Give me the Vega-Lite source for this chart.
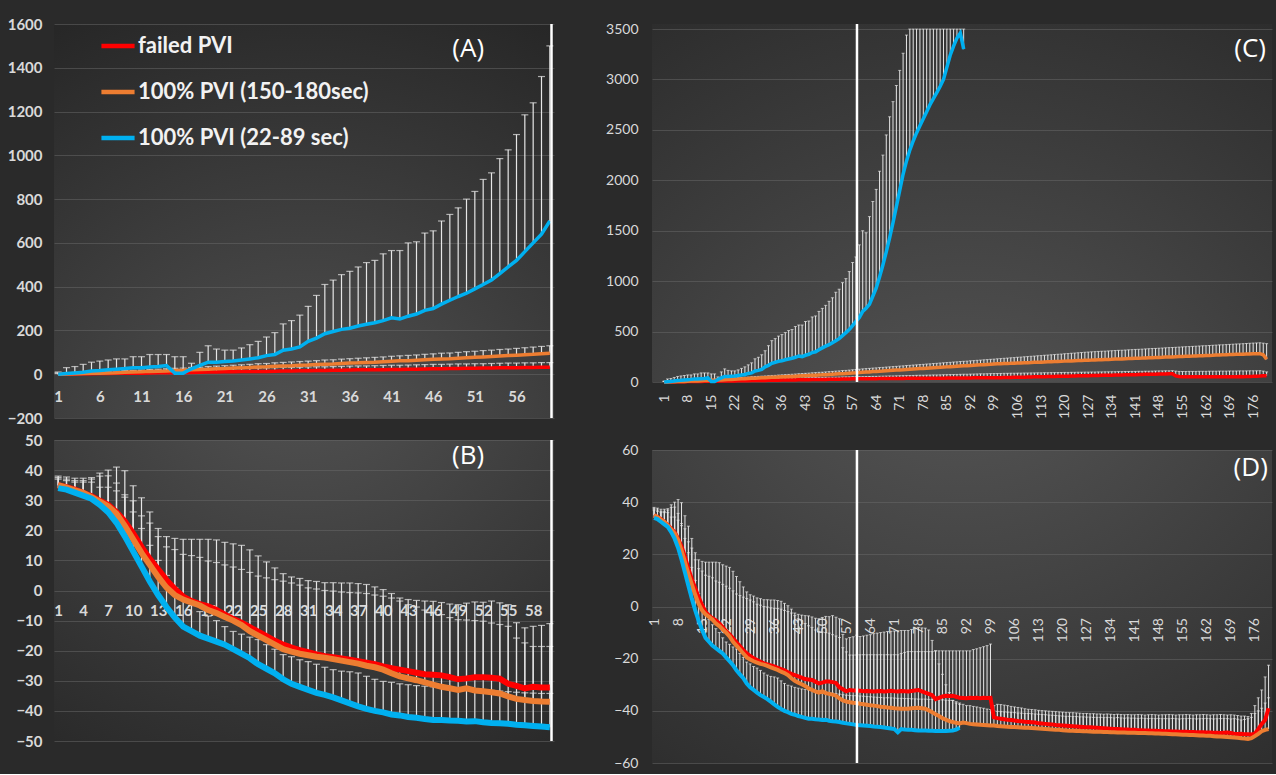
{
"$schema":"https://vega.github.io/schema/vega-lite/v6.json",
"background":"#2a2a2a",
"padding":{"left":6,"top":17,"right":4,"bottom":4},
"config":{"view":{"stroke":null},"axis":{"domain":false,"ticks":false,"labelColor":"#d9d9d9","labelFont":"Lato","gridColor":"#6a6a6a","gridOpacity":0.5,"gridWidth":1,"labelFlush":false,"labelOverlap":false,"tickCount":200,"format":"d"},"axisX":{"grid":false},"axisY":{"grid":true}},
"datasets":{"main":[
{"x":1,"s":"r","c":0,"cu":5,"d":35,"du":37.5},{"x":2,"s":"r","c":1,"cu":7,"d":34.3,"du":37},{"x":3,"s":"r","c":1,"cu":8,"d":33.5,"du":36.5},{"x":4,"s":"r","c":2,"cu":9,"d":32.5,"du":36.5},{"x":5,"s":"r","c":2,"cu":10,"d":31.3,"du":37},{"x":6,"s":"r","c":3,"cu":11,"d":29.8,"du":38},{"x":7,"s":"r","c":3,"cu":12,"d":28.5,"du":38.1},{"x":8,"s":"r","c":4,"cu":13,"d":26,"du":35.7},{"x":9,"s":"r","c":4,"cu":14,"d":23,"du":31.8},{"x":10,"s":"r","c":5,"cu":15,"d":19,"du":29.8},
{"x":11,"s":"r","c":5,"cu":16,"d":14.5,"du":24.8},{"x":12,"s":"r","c":6,"cu":17,"d":10.5,"du":22.4},{"x":13,"s":"r","c":7,"cu":18,"d":7,"du":17.9},{"x":14,"s":"r","c":7,"cu":19,"d":3.5,"du":14.5},{"x":15,"s":"r","c":7,"cu":19,"d":0.5,"du":13.6},{"x":16,"s":"r","c":8,"cu":20,"d":-2,"du":12},{"x":17,"s":"r","c":8,"cu":21,"d":-3.5,"du":11.6},{"x":18,"s":"r","c":9,"cu":22,"d":-4.5,"du":11},{"x":19,"s":"r","c":10,"cu":23,"d":-5.3,"du":9.8},{"x":20,"s":"r","c":10,"cu":24,"d":-6.5,"du":9.3},
{"x":21,"s":"r","c":11,"cu":25,"d":-8,"du":8.5},{"x":22,"s":"r","c":11,"cu":25,"d":-9.5,"du":7.8},{"x":23,"s":"r","c":12,"cu":26,"d":-10.7,"du":7},{"x":24,"s":"r","c":12,"cu":27,"d":-12.2,"du":6},{"x":25,"s":"r","c":13,"cu":28,"d":-13.7,"du":4.8},{"x":26,"s":"r","c":13,"cu":29,"d":-15.2,"du":4.2},{"x":27,"s":"r","c":14,"cu":30,"d":-16.7,"du":3.6},{"x":28,"s":"r","c":15,"cu":31,"d":-18,"du":3.1},{"x":29,"s":"r","c":15,"cu":31,"d":-19,"du":2.5},{"x":30,"s":"r","c":16,"cu":32,"d":-19.8,"du":1.8},
{"x":31,"s":"r","c":16,"cu":33,"d":-20.5,"du":0.9},{"x":32,"s":"r","c":17,"cu":34,"d":-21.2,"du":0.5},{"x":33,"s":"r","c":17,"cu":34,"d":-21.8,"du":0},{"x":34,"s":"r","c":18,"cu":35,"d":-22.2,"du":-0.2},{"x":35,"s":"r","c":18,"cu":36,"d":-22.6,"du":-0.5},{"x":36,"s":"r","c":19,"cu":37,"d":-23,"du":-0.7},{"x":37,"s":"r","c":20,"cu":38,"d":-23.5,"du":-0.8},{"x":38,"s":"r","c":20,"cu":38,"d":-24,"du":-1},{"x":39,"s":"r","c":21,"cu":39,"d":-24.5,"du":-1.5},{"x":40,"s":"r","c":21,"cu":40,"d":-25.2,"du":-1.9},
{"x":41,"s":"r","c":22,"cu":41,"d":-25.8,"du":-2.5},{"x":42,"s":"r","c":22,"cu":41,"d":-26.3,"du":-3.5},{"x":43,"s":"r","c":23,"cu":42,"d":-26.8,"du":-4.7},{"x":44,"s":"r","c":23,"cu":43,"d":-27.3,"du":-5.5},{"x":45,"s":"r","c":24,"cu":44,"d":-27.8,"du":-6.5},{"x":46,"s":"r","c":25,"cu":45,"d":-28,"du":-7.4},{"x":47,"s":"r","c":25,"cu":45,"d":-28.2,"du":-8},{"x":48,"s":"r","c":26,"cu":46,"d":-28.8,"du":-9},{"x":49,"s":"r","c":26,"cu":47,"d":-29.5,"du":-9.7},{"x":50,"s":"r","c":27,"cu":47,"d":-29.2,"du":-9.8},
{"x":51,"s":"r","c":27,"cu":48,"d":-28.8,"du":-10},{"x":52,"s":"r","c":28,"cu":48,"d":-28.8,"du":-10.2},{"x":53,"s":"r","c":28,"cu":49,"d":-29,"du":-10.8},{"x":54,"s":"r","c":29,"cu":50,"d":-29.3,"du":-11.3},{"x":55,"s":"r","c":30,"cu":51,"d":-31,"du":-11.9},{"x":56,"s":"r","c":30,"cu":51,"d":-31.7,"du":-15.8},{"x":57,"s":"r","c":31,"cu":52,"d":-32.5,"du":-17.4},{"x":58,"s":"r","c":31,"cu":52,"d":-32,"du":-18.6},{"x":59,"s":"r","c":32,"cu":53,"d":-32.2,"du":-18.6},{"x":60,"s":"r","c":32,"cu":53,"d":-32.2,"du":-18.6},
{"x":61,"s":"r","c":32,"cu":54,"d":-32.3,"du":-18.5},{"x":62,"s":"r","c":33,"cu":55,"d":-32.5,"du":-18.5},{"x":63,"s":"r","c":33,"cu":56,"d":-32.4,"du":-18.5},{"x":64,"s":"r","c":33,"cu":56,"d":-32.5,"du":-18.5},{"x":65,"s":"r","c":34,"cu":57,"d":-32.6,"du":-18.5},{"x":66,"s":"r","c":34,"cu":58,"d":-32.5,"du":-18.5},{"x":67,"s":"r","c":34,"cu":59,"d":-32.4,"du":-18.5},{"x":68,"s":"r","c":34,"cu":60,"d":-32.6,"du":-18.5},{"x":69,"s":"r","c":35,"cu":60,"d":-32.5,"du":-18.5},{"x":70,"s":"r","c":35,"cu":61,"d":-32.3,"du":-18.5},
{"x":71,"s":"r","c":35,"cu":62,"d":-32.5,"du":-18.5},{"x":72,"s":"r","c":35,"cu":63,"d":-32.6,"du":-18.5},{"x":73,"s":"r","c":36,"cu":63,"d":-32.4,"du":-18},{"x":74,"s":"r","c":36,"cu":64,"d":-32.5,"du":-17.6},{"x":75,"s":"r","c":36,"cu":65,"d":-32.6,"du":-17.3},{"x":76,"s":"r","c":36,"cu":66,"d":-32.4,"du":-17.3},{"x":77,"s":"r","c":37,"cu":67,"d":-32.2,"du":-17.3},{"x":78,"s":"r","c":37,"cu":67,"d":-32,"du":-17.3},{"x":79,"s":"r","c":37,"cu":68,"d":-32.5,"du":-17.3},{"x":80,"s":"r","c":37,"cu":69,"d":-33,"du":-17.3},
{"x":81,"s":"r","c":38,"cu":70,"d":-33.5,"du":-17.3},{"x":82,"s":"r","c":38,"cu":70,"d":-34,"du":-17.3},{"x":83,"s":"r","c":38,"cu":71,"d":-35.5,"du":-17},{"x":84,"s":"r","c":38,"cu":72,"d":-35,"du":-17},{"x":85,"s":"r","c":39,"cu":73,"d":-34.5,"du":-17},{"x":86,"s":"r","c":39,"cu":74,"d":-34.2,"du":-17},{"x":87,"s":"r","c":39,"cu":74,"d":-34.3,"du":-17},{"x":88,"s":"r","c":39,"cu":75,"d":-34.2,"du":-17},{"x":89,"s":"r","c":40,"cu":76,"d":-34.6,"du":-17},{"x":90,"s":"r","c":40,"cu":77,"d":-35,"du":-17},
{"x":91,"s":"r","c":40,"cu":77,"d":-35.1,"du":-17},{"x":92,"s":"r","c":40,"cu":78,"d":-35.2,"du":-17},{"x":93,"s":"r","c":41,"cu":79,"d":-35,"du":-17},{"x":94,"s":"r","c":41,"cu":80,"d":-35.1,"du":-16.5},{"x":95,"s":"r","c":41,"cu":81,"d":-35,"du":-16.2},{"x":96,"s":"r","c":41,"cu":81,"d":-35.2,"du":-15.8},{"x":97,"s":"r","c":42,"cu":82,"d":-35,"du":-15.4},{"x":98,"s":"r","c":42,"cu":83,"d":-35.1,"du":-15},{"x":99,"s":"r","c":42,"cu":84,"d":-35,"du":-14.4},{"x":100,"s":"r","c":42,"cu":84,"d":-42.5,"du":-38},
{"x":101,"s":"r","c":43,"cu":85,"d":-42.8,"du":-37.5},{"x":102,"s":"r","c":44,"cu":86,"d":-43,"du":-37.6},{"x":103,"s":"r","c":45,"cu":86,"d":-43.2,"du":-37.8},{"x":104,"s":"r","c":45,"cu":87,"d":-43.4,"du":-38},{"x":105,"s":"r","c":46,"cu":87,"d":-43.5,"du":-38.3},{"x":106,"s":"r","c":47,"cu":88,"d":-43.7,"du":-38.5},{"x":107,"s":"r","c":48,"cu":88,"d":-43.9,"du":-38.7},{"x":108,"s":"r","c":48,"cu":89,"d":-44,"du":-38.9},{"x":109,"s":"r","c":49,"cu":89,"d":-44.2,"du":-39.2},{"x":110,"s":"r","c":50,"cu":90,"d":-44.3,"du":-39.4},
{"x":111,"s":"r","c":51,"cu":90,"d":-44.4,"du":-39.5},{"x":112,"s":"r","c":51,"cu":91,"d":-44.5,"du":-39.6},{"x":113,"s":"r","c":52,"cu":91,"d":-44.8,"du":-39.8},{"x":114,"s":"r","c":53,"cu":92,"d":-44.9,"du":-39.9},{"x":115,"s":"r","c":54,"cu":92,"d":-45,"du":-40},{"x":116,"s":"r","c":54,"cu":93,"d":-45.1,"du":-40.1},{"x":117,"s":"r","c":55,"cu":93,"d":-45.2,"du":-40.2},{"x":118,"s":"r","c":56,"cu":94,"d":-45.4,"du":-40.3},{"x":119,"s":"r","c":57,"cu":94,"d":-45.5,"du":-40.4},{"x":120,"s":"r","c":57,"cu":95,"d":-45.6,"du":-40.5},
{"x":121,"s":"r","c":58,"cu":95,"d":-45.7,"du":-40.6},{"x":122,"s":"r","c":59,"cu":96,"d":-45.8,"du":-40.7},{"x":123,"s":"r","c":60,"cu":96,"d":-45.9,"du":-40.7},{"x":124,"s":"r","c":61,"cu":97,"d":-46,"du":-40.8},{"x":125,"s":"r","c":61,"cu":97,"d":-46.1,"du":-40.9},{"x":126,"s":"r","c":62,"cu":98,"d":-46.2,"du":-41},{"x":127,"s":"r","c":63,"cu":98,"d":-46.3,"du":-41},{"x":128,"s":"r","c":64,"cu":99,"d":-46.3,"du":-41.1},{"x":129,"s":"r","c":64,"cu":99,"d":-46.4,"du":-41.1},{"x":130,"s":"r","c":65,"cu":100,"d":-46.5,"du":-41.2},
{"x":131,"s":"r","c":66,"cu":100,"d":-46.6,"du":-41.2},{"x":132,"s":"r","c":67,"cu":101,"d":-46.7,"du":-41.3},{"x":133,"s":"r","c":67,"cu":101,"d":-46.8,"du":-41.2},{"x":134,"s":"r","c":68,"cu":102,"d":-46.9,"du":-41.3},{"x":135,"s":"r","c":69,"cu":102,"d":-47,"du":-41.4},{"x":136,"s":"r","c":70,"cu":103,"d":-47,"du":-41.3},{"x":137,"s":"r","c":70,"cu":103,"d":-47.1,"du":-41.4},{"x":138,"s":"r","c":71,"cu":104,"d":-47.2,"du":-41.5},{"x":139,"s":"r","c":72,"cu":104,"d":-47.2,"du":-41.4},{"x":140,"s":"r","c":73,"cu":105,"d":-47.3,"du":-41.5},
{"x":141,"s":"r","c":73,"cu":105,"d":-47.3,"du":-41.5},{"x":142,"s":"r","c":74,"cu":106,"d":-47.4,"du":-41.4},{"x":143,"s":"r","c":75,"cu":106,"d":-47.4,"du":-41.5},{"x":144,"s":"r","c":76,"cu":107,"d":-47.5,"du":-41.6},{"x":145,"s":"r","c":76,"cu":107,"d":-47.5,"du":-41.5},{"x":146,"s":"r","c":77,"cu":108,"d":-47.6,"du":-41.4},{"x":147,"s":"r","c":78,"cu":109,"d":-47.6,"du":-41.5},{"x":148,"s":"r","c":79,"cu":110,"d":-47.7,"du":-41.6},{"x":149,"s":"r","c":79,"cu":110,"d":-47.7,"du":-41.5},{"x":150,"s":"r","c":80,"cu":111,"d":-47.8,"du":-41.5},
{"x":151,"s":"r","c":81,"cu":111,"d":-47.8,"du":-41.4},{"x":152,"s":"r","c":82,"cu":112,"d":-47.9,"du":-41.5},{"x":153,"s":"r","c":60,"cu":108,"d":-47.9,"du":-41.6},{"x":154,"s":"r","c":55,"cu":105,"d":-48,"du":-41.5},{"x":155,"s":"r","c":53,"cu":104,"d":-48,"du":-41.5},{"x":156,"s":"r","c":52,"cu":104,"d":-48,"du":-41.4},{"x":157,"s":"r","c":52,"cu":105,"d":-48.1,"du":-41.5},{"x":158,"s":"r","c":53,"cu":105,"d":-48.1,"du":-41.6},{"x":159,"s":"r","c":52,"cu":105,"d":-48.2,"du":-41.5},{"x":160,"s":"r","c":52,"cu":106,"d":-48.2,"du":-41.5},
{"x":161,"s":"r","c":53,"cu":106,"d":-48.2,"du":-41.4},{"x":162,"s":"r","c":52,"cu":106,"d":-48.3,"du":-41.5},{"x":163,"s":"r","c":52,"cu":107,"d":-48.3,"du":-41.6},{"x":164,"s":"r","c":53,"cu":107,"d":-48.4,"du":-41.5},{"x":165,"s":"r","c":52,"cu":107,"d":-48.4,"du":-41.5},{"x":166,"s":"r","c":52,"cu":108,"d":-48.5,"du":-41.4},{"x":167,"s":"r","c":53,"cu":108,"d":-48.4,"du":-41.5},{"x":168,"s":"r","c":52,"cu":108,"d":-48.3,"du":-41.6},{"x":169,"s":"r","c":53,"cu":109,"d":-48.5,"du":-41.5},{"x":170,"s":"r","c":52,"cu":109,"d":-48.8,"du":-41.6},
{"x":171,"s":"r","c":53,"cu":109,"d":-48.9,"du":-41.8},{"x":172,"s":"r","c":54,"cu":110,"d":-48.8,"du":-42},{"x":173,"s":"r","c":53,"cu":110,"d":-49,"du":-42},{"x":174,"s":"r","c":54,"cu":110,"d":-49,"du":-42.2},{"x":175,"s":"r","c":55,"cu":111,"d":-49.1,"du":-41},{"x":176,"s":"r","c":56,"cu":111,"d":-48.8,"du":-38},{"x":177,"s":"r","c":58,"cu":111,"d":-47,"du":-35},{"x":178,"s":"r","c":60,"cu":112,"d":-45,"du":-32},{"x":179,"s":"r","c":63,"cu":108,"d":-43.5,"du":-27},{"x":180,"s":"r","c":62,"cu":100,"d":-39,"du":-22.5},
{"x":1,"s":"o","c":0,"cu":5,"d":35,"du":38},{"x":2,"s":"o","c":1,"cu":6,"d":34.2,"du":37.7},{"x":3,"s":"o","c":2,"cu":8,"d":33.3,"du":37.3},{"x":4,"s":"o","c":3,"cu":9,"d":32.5,"du":37.3},{"x":5,"s":"o","c":4,"cu":10,"d":31,"du":37.5},{"x":6,"s":"o","c":5,"cu":12,"d":29.5,"du":39},{"x":7,"s":"o","c":6,"cu":13,"d":28,"du":40},{"x":8,"s":"o","c":7,"cu":14,"d":25.5,"du":41},{"x":9,"s":"o","c":9,"cu":17,"d":21.5,"du":39.8},{"x":10,"s":"o","c":10,"cu":18,"d":17,"du":34.8},
{"x":11,"s":"o","c":11,"cu":19,"d":12.5,"du":30.8},{"x":12,"s":"o","c":13,"cu":22,"d":8.5,"du":26.1},{"x":13,"s":"o","c":14,"cu":23,"d":4.5,"du":20.6},{"x":14,"s":"o","c":15,"cu":25,"d":1,"du":17.9},{"x":15,"s":"o","c":17,"cu":27,"d":-1.5,"du":17.3},{"x":16,"s":"o","c":18,"cu":28,"d":-3,"du":17},{"x":17,"s":"o","c":20,"cu":31,"d":-4,"du":17},{"x":18,"s":"o","c":21,"cu":32,"d":-5,"du":17},{"x":19,"s":"o","c":23,"cu":35,"d":-6.5,"du":17},{"x":20,"s":"o","c":25,"cu":37,"d":-7.5,"du":16.8},
{"x":21,"s":"o","c":26,"cu":39,"d":-8.8,"du":16},{"x":22,"s":"o","c":28,"cu":41,"d":-10,"du":15.5},{"x":23,"s":"o","c":29,"cu":43,"d":-11.5,"du":15},{"x":24,"s":"o","c":31,"cu":45,"d":-13.5,"du":13.5},{"x":25,"s":"o","c":33,"cu":48,"d":-15,"du":11.5},{"x":26,"s":"o","c":34,"cu":49,"d":-16.5,"du":9.5},{"x":27,"s":"o","c":36,"cu":52,"d":-18,"du":7.5},{"x":28,"s":"o","c":38,"cu":54,"d":-19.5,"du":5.6},{"x":29,"s":"o","c":39,"cu":56,"d":-20.3,"du":4.5},{"x":30,"s":"o","c":41,"cu":58,"d":-21,"du":4},
{"x":31,"s":"o","c":42,"cu":60,"d":-21.5,"du":3.3},{"x":32,"s":"o","c":44,"cu":62,"d":-22,"du":3},{"x":33,"s":"o","c":46,"cu":65,"d":-22.3,"du":2.6},{"x":34,"s":"o","c":47,"cu":66,"d":-22.8,"du":2.6},{"x":35,"s":"o","c":49,"cu":69,"d":-23.3,"du":2.5},{"x":36,"s":"o","c":51,"cu":71,"d":-23.8,"du":2.5},{"x":37,"s":"o","c":52,"cu":73,"d":-24.3,"du":2.3},{"x":38,"s":"o","c":54,"cu":75,"d":-25,"du":2},{"x":39,"s":"o","c":55,"cu":77,"d":-25.5,"du":1.2},{"x":40,"s":"o","c":57,"cu":79,"d":-26.3,"du":0.3},
{"x":41,"s":"o","c":59,"cu":82,"d":-27.5,"du":-1},{"x":42,"s":"o","c":61,"cu":84,"d":-28.5,"du":-2.5},{"x":43,"s":"o","c":62,"cu":86,"d":-29.2,"du":-3},{"x":44,"s":"o","c":64,"cu":88,"d":-29.8,"du":-3.3},{"x":45,"s":"o","c":66,"cu":91,"d":-30.5,"du":-3.5},{"x":46,"s":"o","c":68,"cu":93,"d":-31.3,"du":-3.6},{"x":47,"s":"o","c":70,"cu":96,"d":-32,"du":-4},{"x":48,"s":"o","c":71,"cu":97,"d":-32.5,"du":-4.5},{"x":49,"s":"o","c":73,"cu":100,"d":-33,"du":-4.7},{"x":50,"s":"o","c":75,"cu":103,"d":-32.5,"du":-4.2},
{"x":51,"s":"o","c":77,"cu":105,"d":-33.2,"du":-3.8},{"x":52,"s":"o","c":79,"cu":108,"d":-33.5,"du":-3.9},{"x":53,"s":"o","c":81,"cu":110,"d":-33.8,"du":-3.5},{"x":54,"s":"o","c":83,"cu":113,"d":-34.2,"du":-4.1},{"x":55,"s":"o","c":85,"cu":115,"d":-35.2,"du":-4.7},{"x":56,"s":"o","c":87,"cu":118,"d":-36,"du":-10.7},{"x":57,"s":"o","c":89,"cu":121,"d":-36.4,"du":-12.4},{"x":58,"s":"o","c":91,"cu":124,"d":-36.7,"du":-11.9},{"x":59,"s":"o","c":94,"cu":127,"d":-36.9,"du":-11.6},{"x":60,"s":"o","c":96,"cu":130,"d":-37,"du":-11},
{"x":61,"s":"o","c":98,"cu":133,"d":-37.3,"du":-11.5},{"x":62,"s":"o","c":100,"cu":135,"d":-37.5,"du":-11.3},{"x":63,"s":"o","c":103,"cu":138,"d":-37.7,"du":-11},{"x":64,"s":"o","c":105,"cu":140,"d":-37.9,"du":-10.8},{"x":65,"s":"o","c":107,"cu":143,"d":-38,"du":-10.4},{"x":66,"s":"o","c":109,"cu":145,"d":-38.2,"du":-10.2},{"x":67,"s":"o","c":112,"cu":148,"d":-38.4,"du":-10},{"x":68,"s":"o","c":114,"cu":150,"d":-38.5,"du":-9.8},{"x":69,"s":"o","c":116,"cu":153,"d":-38.7,"du":-9.6},{"x":70,"s":"o","c":118,"cu":155,"d":-38.8,"du":-9.5},
{"x":71,"s":"o","c":120,"cu":158,"d":-39,"du":-9.4},{"x":72,"s":"o","c":122,"cu":160,"d":-39.1,"du":-9.3},{"x":73,"s":"o","c":125,"cu":163,"d":-39.2,"du":-9.2},{"x":74,"s":"o","c":127,"cu":165,"d":-39.2,"du":-9.2},{"x":75,"s":"o","c":129,"cu":168,"d":-39.2,"du":-9.2},{"x":76,"s":"o","c":131,"cu":170,"d":-39,"du":-8.8},{"x":77,"s":"o","c":133,"cu":173,"d":-38.9,"du":-8.4},{"x":78,"s":"o","c":135,"cu":175,"d":-38.8,"du":-8},{"x":79,"s":"o","c":137,"cu":178,"d":-39,"du":-8.2},{"x":80,"s":"o","c":139,"cu":180,"d":-39.2,"du":-8.3},
{"x":81,"s":"o","c":141,"cu":183,"d":-39.8,"du":-9},{"x":82,"s":"o","c":143,"cu":185,"d":-40.5,"du":-13},{"x":83,"s":"o","c":145,"cu":188,"d":-41.3,"du":-17},{"x":84,"s":"o","c":148,"cu":190,"d":-42,"du":-22},{"x":85,"s":"o","c":150,"cu":193,"d":-42.8,"du":-26},{"x":86,"s":"o","c":152,"cu":195,"d":-43.4,"du":-30},{"x":87,"s":"o","c":154,"cu":198,"d":-43.9,"du":-33},{"x":88,"s":"o","c":156,"cu":200,"d":-44.3,"du":-36},{"x":89,"s":"o","c":158,"cu":203,"d":-44.6,"du":-37},{"x":90,"s":"o","c":160,"cu":205,"d":-44.8,"du":-37.5},
{"x":91,"s":"o","c":162,"cu":207,"d":-44.5,"du":-37.5},{"x":92,"s":"o","c":164,"cu":210,"d":-44.7,"du":-38},{"x":93,"s":"o","c":166,"cu":212,"d":-45,"du":-38},{"x":94,"s":"o","c":168,"cu":215,"d":-45.1,"du":-38.3},{"x":95,"s":"o","c":170,"cu":217,"d":-45.2,"du":-38.5},{"x":96,"s":"o","c":172,"cu":220,"d":-45.3,"du":-38.8},{"x":97,"s":"o","c":174,"cu":222,"d":-45.4,"du":-39},{"x":98,"s":"o","c":176,"cu":225,"d":-45.5,"du":-39.3},{"x":99,"s":"o","c":178,"cu":227,"d":-45.6,"du":-39.5},{"x":100,"s":"o","c":180,"cu":230,"d":-45.6,"du":-40},
{"x":101,"s":"o","c":181,"cu":232,"d":-45.8,"du":-40.2},{"x":102,"s":"o","c":183,"cu":235,"d":-45.9,"du":-40.3},{"x":103,"s":"o","c":184,"cu":237,"d":-46,"du":-40.4},{"x":104,"s":"o","c":185,"cu":240,"d":-46.1,"du":-40.5},{"x":105,"s":"o","c":187,"cu":242,"d":-46.2,"du":-40.6},{"x":106,"s":"o","c":188,"cu":245,"d":-46.2,"du":-40.7},{"x":107,"s":"o","c":189,"cu":247,"d":-46.3,"du":-40.8},{"x":108,"s":"o","c":191,"cu":250,"d":-46.4,"du":-40.9},{"x":109,"s":"o","c":192,"cu":252,"d":-46.5,"du":-41},{"x":110,"s":"o","c":193,"cu":255,"d":-46.5,"du":-41},
{"x":111,"s":"o","c":195,"cu":257,"d":-46.6,"du":-41.1},{"x":112,"s":"o","c":196,"cu":260,"d":-46.7,"du":-41.2},{"x":113,"s":"o","c":197,"cu":262,"d":-46.8,"du":-41.3},{"x":114,"s":"o","c":199,"cu":265,"d":-46.9,"du":-41.4},{"x":115,"s":"o","c":200,"cu":267,"d":-47,"du":-41.5},{"x":116,"s":"o","c":201,"cu":270,"d":-47.1,"du":-41.6},{"x":117,"s":"o","c":203,"cu":272,"d":-47.2,"du":-41.7},{"x":118,"s":"o","c":204,"cu":275,"d":-47.3,"du":-41.8},{"x":119,"s":"o","c":205,"cu":277,"d":-47.3,"du":-41.9},{"x":120,"s":"o","c":207,"cu":280,"d":-47.4,"du":-42},
{"x":121,"s":"o","c":208,"cu":282,"d":-47.5,"du":-42.1},{"x":122,"s":"o","c":209,"cu":285,"d":-47.6,"du":-42.1},{"x":123,"s":"o","c":211,"cu":287,"d":-47.6,"du":-42.2},{"x":124,"s":"o","c":212,"cu":290,"d":-47.7,"du":-42.2},{"x":125,"s":"o","c":213,"cu":292,"d":-47.7,"du":-42.3},{"x":126,"s":"o","c":215,"cu":295,"d":-47.8,"du":-42.3},{"x":127,"s":"o","c":216,"cu":297,"d":-47.8,"du":-42.4},{"x":128,"s":"o","c":217,"cu":299,"d":-47.9,"du":-42.4},{"x":129,"s":"o","c":219,"cu":301,"d":-48,"du":-42.5},{"x":130,"s":"o","c":220,"cu":303,"d":-48,"du":-42.5},
{"x":131,"s":"o","c":221,"cu":305,"d":-48,"du":-42.5},{"x":132,"s":"o","c":223,"cu":306,"d":-48.1,"du":-42.6},{"x":133,"s":"o","c":224,"cu":308,"d":-48.1,"du":-42.5},{"x":134,"s":"o","c":225,"cu":310,"d":-48.2,"du":-42.6},{"x":135,"s":"o","c":227,"cu":312,"d":-48.2,"du":-42.7},{"x":136,"s":"o","c":228,"cu":314,"d":-48.3,"du":-42.6},{"x":137,"s":"o","c":229,"cu":315,"d":-48.3,"du":-42.7},{"x":138,"s":"o","c":231,"cu":317,"d":-48.3,"du":-42.8},{"x":139,"s":"o","c":232,"cu":319,"d":-48.4,"du":-42.7},{"x":140,"s":"o","c":233,"cu":321,"d":-48.4,"du":-42.8},
{"x":141,"s":"o","c":235,"cu":323,"d":-48.4,"du":-42.8},{"x":142,"s":"o","c":236,"cu":324,"d":-48.5,"du":-42.9},{"x":143,"s":"o","c":237,"cu":326,"d":-48.5,"du":-42.8},{"x":144,"s":"o","c":239,"cu":328,"d":-48.5,"du":-42.9},{"x":145,"s":"o","c":240,"cu":330,"d":-48.6,"du":-43},{"x":146,"s":"o","c":241,"cu":332,"d":-48.6,"du":-42.9},{"x":147,"s":"o","c":243,"cu":333,"d":-48.7,"du":-43},{"x":148,"s":"o","c":244,"cu":335,"d":-48.7,"du":-42.9},{"x":149,"s":"o","c":245,"cu":337,"d":-48.8,"du":-43},{"x":150,"s":"o","c":247,"cu":339,"d":-48.8,"du":-43},
{"x":151,"s":"o","c":248,"cu":341,"d":-48.9,"du":-43},{"x":152,"s":"o","c":249,"cu":342,"d":-49,"du":-42.9},{"x":153,"s":"o","c":251,"cu":344,"d":-49,"du":-43},{"x":154,"s":"o","c":252,"cu":346,"d":-49.1,"du":-43.1},{"x":155,"s":"o","c":253,"cu":348,"d":-49.2,"du":-43},{"x":156,"s":"o","c":255,"cu":350,"d":-49.2,"du":-43},{"x":157,"s":"o","c":256,"cu":351,"d":-49.3,"du":-42.9},{"x":158,"s":"o","c":257,"cu":353,"d":-49.3,"du":-43},{"x":159,"s":"o","c":259,"cu":355,"d":-49.4,"du":-43.1},{"x":160,"s":"o","c":260,"cu":357,"d":-49.5,"du":-43},
{"x":161,"s":"o","c":261,"cu":359,"d":-49.5,"du":-43},{"x":162,"s":"o","c":263,"cu":360,"d":-49.6,"du":-42.9},{"x":163,"s":"o","c":264,"cu":362,"d":-49.6,"du":-43},{"x":164,"s":"o","c":265,"cu":364,"d":-49.7,"du":-43.1},{"x":165,"s":"o","c":267,"cu":366,"d":-49.8,"du":-43},{"x":166,"s":"o","c":268,"cu":368,"d":-49.8,"du":-43},{"x":167,"s":"o","c":269,"cu":369,"d":-49.9,"du":-42.9},{"x":168,"s":"o","c":271,"cu":371,"d":-50,"du":-43},{"x":169,"s":"o","c":272,"cu":373,"d":-50.1,"du":-43.1},{"x":170,"s":"o","c":273,"cu":375,"d":-50.2,"du":-43},
{"x":171,"s":"o","c":274,"cu":377,"d":-50.3,"du":-43.2},{"x":172,"s":"o","c":275,"cu":378,"d":-50.5,"du":-43.5},{"x":173,"s":"o","c":276,"cu":380,"d":-50.6,"du":-43.3},{"x":174,"s":"o","c":277,"cu":382,"d":-50.8,"du":-43},{"x":175,"s":"o","c":278,"cu":384,"d":-50.5,"du":-42.5},{"x":176,"s":"o","c":279,"cu":386,"d":-49.7,"du":-41},{"x":177,"s":"o","c":280,"cu":387,"d":-48.8,"du":-40},{"x":178,"s":"o","c":281,"cu":389,"d":-47.8,"du":-39},{"x":179,"s":"o","c":270,"cu":385,"d":-47.3,"du":-37},{"x":180,"s":"o","c":225,"cu":380,"d":-47,"du":-35},
{"x":1,"s":"b","c":0,"cu":10,"d":34,"du":37},{"x":2,"s":"b","c":3,"cu":30,"d":33.5,"du":36.5},{"x":3,"s":"b","c":6,"cu":35,"d":32.5,"du":36},{"x":4,"s":"b","c":9,"cu":45,"d":31.5,"du":36},{"x":5,"s":"b","c":15,"cu":55,"d":30.5,"du":36},{"x":6,"s":"b","c":17,"cu":60,"d":28.5,"du":34.3},{"x":7,"s":"b","c":20,"cu":65,"d":26,"du":34.3},{"x":8,"s":"b","c":23,"cu":70,"d":22.5,"du":33.1},{"x":9,"s":"b","c":26,"cu":70,"d":18,"du":31},{"x":10,"s":"b","c":30,"cu":80,"d":13,"du":26.1},
{"x":11,"s":"b","c":30,"cu":80,"d":8,"du":20.6},{"x":12,"s":"b","c":33,"cu":90,"d":3,"du":15},{"x":13,"s":"b","c":35,"cu":90,"d":-1.5,"du":10},{"x":14,"s":"b","c":40,"cu":90,"d":-5.5,"du":5},{"x":15,"s":"b","c":5,"cu":80,"d":-9,"du":1},{"x":16,"s":"b","c":5,"cu":80,"d":-12,"du":-3},{"x":17,"s":"b","c":25,"cu":50,"d":-13.5,"du":-5},{"x":18,"s":"b","c":40,"cu":100,"d":-15,"du":-7},{"x":19,"s":"b","c":55,"cu":130,"d":-16,"du":-8.5},{"x":20,"s":"b","c":55,"cu":115,"d":-17,"du":-10},
{"x":21,"s":"b","c":58,"cu":110,"d":-18,"du":-12},{"x":22,"s":"b","c":60,"cu":110,"d":-19.5,"du":-13.6},{"x":23,"s":"b","c":65,"cu":120,"d":-21,"du":-14.5},{"x":24,"s":"b","c":70,"cu":135,"d":-22.5,"du":-15.5},{"x":25,"s":"b","c":75,"cu":150,"d":-24.5,"du":-16.3},{"x":26,"s":"b","c":85,"cu":170,"d":-26,"du":-18},{"x":27,"s":"b","c":90,"cu":190,"d":-27.5,"du":-19.5},{"x":28,"s":"b","c":110,"cu":230,"d":-29.5,"du":-21.3},{"x":29,"s":"b","c":115,"cu":245,"d":-31,"du":-22},{"x":30,"s":"b","c":125,"cu":270,"d":-32,"du":-23},
{"x":31,"s":"b","c":150,"cu":310,"d":-33,"du":-23.6},{"x":32,"s":"b","c":165,"cu":360,"d":-34,"du":-24.5},{"x":33,"s":"b","c":185,"cu":410,"d":-34.7,"du":-25.5},{"x":34,"s":"b","c":195,"cu":430,"d":-35.5,"du":-26.3},{"x":35,"s":"b","c":205,"cu":455,"d":-36.5,"du":-26.8},{"x":36,"s":"b","c":210,"cu":470,"d":-37.5,"du":-27},{"x":37,"s":"b","c":220,"cu":490,"d":-38.5,"du":-27.4},{"x":38,"s":"b","c":228,"cu":510,"d":-39.3,"du":-28.5},{"x":39,"s":"b","c":235,"cu":520,"d":-40,"du":-29.5},{"x":40,"s":"b","c":245,"cu":550,"d":-40.5,"du":-30.2},
{"x":41,"s":"b","c":258,"cu":565,"d":-41.2,"du":-30.5},{"x":42,"s":"b","c":252,"cu":565,"d":-41.5,"du":-31},{"x":43,"s":"b","c":265,"cu":600,"d":-42,"du":-31.3},{"x":44,"s":"b","c":275,"cu":605,"d":-42.3,"du":-31.6},{"x":45,"s":"b","c":292,"cu":645,"d":-42.7,"du":-31.8},{"x":46,"s":"b","c":300,"cu":655,"d":-43,"du":-32},{"x":47,"s":"b","c":320,"cu":700,"d":-43,"du":-32.2},{"x":48,"s":"b","c":338,"cu":730,"d":-43.2,"du":-32.3},{"x":49,"s":"b","c":355,"cu":760,"d":-43.3,"du":-32.4},{"x":50,"s":"b","c":370,"cu":800,"d":-43.5,"du":-32.6},
{"x":51,"s":"b","c":390,"cu":835,"d":-43.4,"du":-32.8},{"x":52,"s":"b","c":410,"cu":890,"d":-43.8,"du":-33},{"x":53,"s":"b","c":430,"cu":920,"d":-44,"du":-33.2},{"x":54,"s":"b","c":460,"cu":985,"d":-44.1,"du":-33.4},{"x":55,"s":"b","c":490,"cu":1025,"d":-44.3,"du":-33.6},{"x":56,"s":"b","c":520,"cu":1095,"d":-44.6,"du":-33.8},{"x":57,"s":"b","c":560,"cu":1185,"d":-44.8,"du":-34},{"x":58,"s":"b","c":600,"cu":1240,"d":-45,"du":-34.1},{"x":59,"s":"b","c":640,"cu":1360,"d":-45.2,"du":-34.2},{"x":60,"s":"b","c":700,"cu":1500,"d":-45.4,"du":-34.2},
{"x":61,"s":"b","c":730,"cu":1480,"d":-45.5,"du":-34.3},{"x":62,"s":"b","c":770,"cu":1640,"d":-45.6,"du":-34.4},{"x":63,"s":"b","c":850,"cu":1790,"d":-45.7,"du":-34.5},{"x":64,"s":"b","c":930,"cu":1910,"d":-45.8,"du":-34.6},{"x":65,"s":"b","c":1040,"cu":2090,"d":-46,"du":-34.7},{"x":66,"s":"b","c":1160,"cu":2250,"d":-46.1,"du":-34.8},{"x":67,"s":"b","c":1290,"cu":2450,"d":-46.2,"du":-34.9},{"x":68,"s":"b","c":1430,"cu":2630,"d":-46.4,"du":-35},{"x":69,"s":"b","c":1580,"cu":2780,"d":-46.6,"du":-35},{"x":70,"s":"b","c":1740,"cu":2940,"d":-46.8,"du":-35},
{"x":71,"s":"b","c":1900,"cu":3090,"d":-47,"du":-35.1},{"x":72,"s":"b","c":2060,"cu":3260,"d":-48.2,"du":-35.2},{"x":73,"s":"b","c":2190,"cu":3440,"d":-47,"du":-35.2},{"x":74,"s":"b","c":2300,"cu":3500,"d":-47.2,"du":-35.3},{"x":75,"s":"b","c":2390,"cu":3500,"d":-47.3,"du":-35.3},{"x":76,"s":"b","c":2470,"cu":3500,"d":-47.3,"du":-35.4},{"x":77,"s":"b","c":2540,"cu":3500,"d":-47.4,"du":-35.4},{"x":78,"s":"b","c":2610,"cu":3500,"d":-47.5,"du":-35.5},{"x":79,"s":"b","c":2680,"cu":3500,"d":-47.5,"du":-35.5},{"x":80,"s":"b","c":2750,"cu":3500,"d":-47.5,"du":-35.5},
{"x":81,"s":"b","c":2810,"cu":3500,"d":-47.6,"du":-35.6},{"x":82,"s":"b","c":2870,"cu":3500,"d":-47.6,"du":-35.6},{"x":83,"s":"b","c":2930,"cu":3500,"d":-47.7,"du":-35.7},{"x":84,"s":"b","c":3000,"cu":3500,"d":-47.7,"du":-35.8},{"x":85,"s":"b","c":3120,"cu":3500,"d":-47.7,"du":-35.8},{"x":86,"s":"b","c":3240,"cu":3500,"d":-47.7,"du":-35.9},{"x":87,"s":"b","c":3330,"cu":3500,"d":-47.6,"du":-36},{"x":88,"s":"b","c":3410,"cu":3500,"d":-47.5,"du":-36},{"x":89,"s":"b","c":3460,"cu":3500,"d":-47.2,"du":-36.5},{"x":90,"s":"b","c":3300,"cu":3500,"d":-46.5,"du":-37}
]},
"spacing":43,
"resolve":{"legend":{"color":"independent"}},
"hconcat":[
{"spacing":7,"resolve":{"legend":{"color":"independent"}},"vconcat":[
{"width":500,"height":394,
"view":{"stroke":null,"fill":{"gradient":"radial","x1":0.5,"y1":1,"r1":0,"x2":0.5,"y2":1,"r2":1.1,"stops":[{"offset":0,"color":"#555555"},{"offset":1,"color":"#232323"}]}},
"layer":[
{"data":{"name":"main"},"transform":[{"filter":"datum.x<=60"}],"mark":{"type":"rule","color":"#e6e6e6","strokeWidth":1.2},
"encoding":{"x":{"field":"x","type":"quantitative","title":null,"scale":{"domain":[0.5,60.5],"nice":false,"zero":false},"axis":{"values":[1,6,11,16,21,26,31,36,41,46,51,56],"format":"d","tickCount":200,"labelOverlap":false,"labelFontWeight":"bold","labelFontSize":15,"offset":-31,"labelPadding":2,"labelAngle":0}},
"y":{"field":"c","type":"quantitative","title":null,"scale":{"domain":[-200,1600],"nice":false,"zero":false},"axis":{"values":[-200,0,200,400,600,800,1000,1200,1400,1600],"tickCount":200,"labelOverlap":false,"format":"d","labelFontWeight":"bold","labelFontSize":15,"labelPadding":12,"minExtent":48,"maxExtent":48}},
"y2":{"field":"cu"}}},
{"data":{"name":"main"},"transform":[{"filter":"datum.x<=60"}],"mark":{"type":"tick","orient":"horizontal","color":"#e6e6e6","size":7,"thickness":1.2},
"encoding":{"x":{"field":"x","type":"quantitative","title":null,"scale":{"domain":[0.5,60.5],"nice":false,"zero":false}},"y":{"field":"cu","type":"quantitative","title":null,"scale":{"domain":[-200,1600],"nice":false,"zero":false}}}},
{"data":{"name":"main"},"transform":[{"filter":"datum.x<=60"}],"mark":{"type":"line","strokeWidth":3.5},
"encoding":{"x":{"field":"x","type":"quantitative","title":null,"scale":{"domain":[0.5,60.5],"nice":false,"zero":false}},"y":{"field":"c","type":"quantitative","title":null,"scale":{"domain":[-200,1600],"nice":false,"zero":false}},
"color":{"field":"s","type":"nominal","scale":{"domain":["r","o","b"],"range":["#ff0000","#ed7d31","#00b0f0"]},
"legend":{"orient":"none","legendX":45,"legendY":3,"title":null,"labelExpr":"datum.label=='r'?'failed PVI':datum.label=='o'?'100% PVI (150-180sec)':'100% PVI (22-89 sec)'","labelFontSize":22,"labelFontWeight":"bold","labelColor":"#f2f2f2","labelFont":"Lato","symbolType":"stroke","symbolSize":1100,"symbolStrokeWidth":4.5,"rowPadding":16,"labelOffset":1,"padding":0,"labelLimit":400}}}},
{"data":{"values":[{"x":60.2}]},"mark":{"type":"rule","color":"#ffffff","strokeWidth":2.5},"encoding":{"x":{"field":"x","type":"quantitative","title":null,"scale":{"domain":[0.5,60.5],"nice":false,"zero":false}}}},
{"data":{"values":[{"x":50.2,"y":1486,"t":"(A)"}]},"mark":{"type":"text","font":"Open Sans","fontSize":26,"color":"#ffffff"},
"encoding":{"x":{"field":"x","type":"quantitative","title":null,"scale":{"domain":[0.5,60.5],"nice":false,"zero":false}},"y":{"field":"y","type":"quantitative","title":null,"scale":{"domain":[-200,1600],"nice":false,"zero":false}},"text":{"field":"t"}}}
]},
{"width":500,"height":301,
"view":{"stroke":null,"fill":{"gradient":"radial","x1":0.5,"y1":0,"r1":0,"x2":0.5,"y2":0,"r2":1.1,"stops":[{"offset":0,"color":"#555555"},{"offset":1,"color":"#232323"}]}},
"layer":[
{"data":{"name":"main"},"transform":[{"filter":"datum.x<=60"}],"mark":{"type":"rule","color":"#e6e6e6","strokeWidth":1.2},
"encoding":{"x":{"field":"x","type":"quantitative","title":null,"scale":{"domain":[0.5,60.5],"nice":false,"zero":false},"axis":{"values":[1,4,7,10,13,16,19,22,25,28,31,34,37,40,43,46,49,52,55,58],"format":"d","tickCount":200,"labelOverlap":false,"labelFontWeight":"bold","labelFontSize":15,"offset":-150.5,"labelPadding":13,"labelAngle":0}},
"y":{"field":"d","type":"quantitative","title":null,"scale":{"domain":[-50,50],"nice":false,"zero":false},"axis":{"values":[-50,-40,-30,-20,-10,0,10,20,30,40,50],"tickCount":200,"labelOverlap":false,"format":"d","labelFontWeight":"bold","labelFontSize":15,"labelPadding":12,"minExtent":48,"maxExtent":48}},
"y2":{"field":"du"}}},
{"data":{"name":"main"},"transform":[{"filter":"datum.x<=60"}],"mark":{"type":"tick","orient":"horizontal","color":"#e6e6e6","size":7,"thickness":1.2},
"encoding":{"x":{"field":"x","type":"quantitative","title":null,"scale":{"domain":[0.5,60.5],"nice":false,"zero":false}},"y":{"field":"du","type":"quantitative","title":null,"scale":{"domain":[-50,50],"nice":false,"zero":false}}}},
{"data":{"name":"main"},"transform":[{"filter":"datum.x<=60"}],"mark":{"type":"line","strokeWidth":6},
"encoding":{"x":{"field":"x","type":"quantitative","title":null,"scale":{"domain":[0.5,60.5],"nice":false,"zero":false}},"y":{"field":"d","type":"quantitative","title":null,"scale":{"domain":[-50,50],"nice":false,"zero":false}},
"color":{"field":"s","type":"nominal","scale":{"domain":["r","o","b"],"range":["#ff0000","#ed7d31","#00b0f0"]},"legend":null}}},
{"data":{"values":[{"x":60.2}]},"mark":{"type":"rule","color":"#ffffff","strokeWidth":2.5},"encoding":{"x":{"field":"x","type":"quantitative","title":null,"scale":{"domain":[0.5,60.5],"nice":false,"zero":false}}}},
{"data":{"values":[{"x":50.2,"y":44.7,"t":"(B)"}]},"mark":{"type":"text","font":"Open Sans","fontSize":26,"color":"#ffffff"},
"encoding":{"x":{"field":"x","type":"quantitative","title":null,"scale":{"domain":[0.5,60.5],"nice":false,"zero":false}},"y":{"field":"y","type":"quantitative","title":null,"scale":{"domain":[-50,50],"nice":false,"zero":false}},"text":{"field":"t"}}}
]}
]},
{"spacing":24,"resolve":{"legend":{"color":"independent"}},"vconcat":[
{"width":620,"height":358,
"view":{"stroke":null,"fill":{"gradient":"radial","x1":0.5,"y1":1,"r1":0,"x2":0.5,"y2":1,"r2":1.1,"stops":[{"offset":0,"color":"#5a5a5a"},{"offset":1,"color":"#252525"}]}},
"layer":[
{"data":{"name":"main"},"mark":{"type":"rule","color":"#e6e6e6","strokeWidth":1,"clip":true},
"encoding":{"x":{"field":"x","type":"quantitative","title":null,"scale":{"domain":[-2.6,181.6],"nice":false,"zero":false},"axis":{"values":[1,8,15,22,29,36,43,50,57,64,71,78,85,92,99,106,113,120,127,134,141,148,155,162,169,176],"format":"d","tickCount":200,"labelOverlap":false,"labelFontSize":14,"labelAngle":270,"labelPadding":12}},
"y":{"field":"c","type":"quantitative","title":null,"scale":{"domain":[0,3550],"nice":false,"zero":false},"axis":{"values":[0,500,1000,1500,2000,2500,3000,3500],"tickCount":200,"labelOverlap":false,"format":"d","labelFontSize":14,"labelPadding":14,"minExtent":45,"maxExtent":45}},
"y2":{"field":"cu"}}},
{"data":{"name":"main"},"mark":{"type":"tick","orient":"horizontal","color":"#e6e6e6","size":3,"thickness":1,"clip":true},
"encoding":{"x":{"field":"x","type":"quantitative","title":null,"scale":{"domain":[-2.6,181.6],"nice":false,"zero":false}},"y":{"field":"cu","type":"quantitative","title":null,"scale":{"domain":[0,3550],"nice":false,"zero":false}}}},
{"data":{"name":"main"},"mark":{"type":"line","strokeWidth":3.5},
"encoding":{"x":{"field":"x","type":"quantitative","title":null,"scale":{"domain":[-2.6,181.6],"nice":false,"zero":false}},"y":{"field":"c","type":"quantitative","title":null,"scale":{"domain":[0,3550],"nice":false,"zero":false}},
"color":{"field":"s","type":"nominal","scale":{"domain":["r","o","b"],"range":["#ff0000","#ed7d31","#00b0f0"]},"legend":null}}},
{"data":{"values":[{"x":58.3}]},"mark":{"type":"rule","color":"#ffffff","strokeWidth":2.5},"encoding":{"x":{"field":"x","type":"quantitative","title":null,"scale":{"domain":[-2.6,181.6],"nice":false,"zero":false}}}},
{"data":{"values":[{"x":175.1,"y":3300,"t":"(C)"}]},"mark":{"type":"text","font":"Open Sans","fontSize":26,"color":"#ffffff"},
"encoding":{"x":{"field":"x","type":"quantitative","title":null,"scale":{"domain":[-2.6,181.6],"nice":false,"zero":false}},"y":{"field":"y","type":"quantitative","title":null,"scale":{"domain":[0,3550],"nice":false,"zero":false}},"text":{"field":"t"}}}
]},
{"width":620,"height":313,
"view":{"stroke":null,"fill":{"gradient":"radial","x1":0.5,"y1":0,"r1":0,"x2":0.5,"y2":0,"r2":1.1,"stops":[{"offset":0,"color":"#5a5a5a"},{"offset":1,"color":"#252525"}]}},
"layer":[
{"data":{"name":"main"},"mark":{"type":"rule","color":"#e6e6e6","strokeWidth":1},
"encoding":{"x":{"field":"x","type":"quantitative","title":null,"scale":{"domain":[0.4,181],"nice":false,"zero":false},"axis":{"values":[1,8,15,22,29,36,43,50,57,64,71,78,85,92,99,106,113,120,127,134,141,148,155,162,169,176],"format":"d","tickCount":200,"labelOverlap":false,"labelFontSize":14,"labelAngle":270,"labelPadding":11,"offset":-156.5}},
"y":{"field":"d","type":"quantitative","title":null,"scale":{"domain":[-60,60],"nice":false,"zero":false},"axis":{"values":[-60,-40,-20,0,20,40,60],"tickCount":200,"labelOverlap":false,"format":"d","labelFontSize":14,"labelPadding":14,"minExtent":35,"maxExtent":35}},
"y2":{"field":"du"}}},
{"data":{"name":"main"},"mark":{"type":"tick","orient":"horizontal","color":"#e6e6e6","size":3,"thickness":1},
"encoding":{"x":{"field":"x","type":"quantitative","title":null,"scale":{"domain":[0.4,181],"nice":false,"zero":false}},"y":{"field":"du","type":"quantitative","title":null,"scale":{"domain":[-60,60],"nice":false,"zero":false}}}},
{"data":{"name":"main"},"mark":{"type":"line","strokeWidth":4},
"encoding":{"x":{"field":"x","type":"quantitative","title":null,"scale":{"domain":[0.4,181],"nice":false,"zero":false}},"y":{"field":"d","type":"quantitative","title":null,"scale":{"domain":[-60,60],"nice":false,"zero":false}},
"color":{"field":"s","type":"nominal","scale":{"domain":["r","o","b"],"range":["#ff0000","#ed7d31","#00b0f0"]},"legend":null}}},
{"data":{"values":[{"x":60.1}]},"mark":{"type":"rule","color":"#ffffff","strokeWidth":2.5},"encoding":{"x":{"field":"x","type":"quantitative","title":null,"scale":{"domain":[0.4,181],"nice":false,"zero":false}}}},
{"data":{"values":[{"x":174.8,"y":53,"t":"(D)"}]},"mark":{"type":"text","font":"Open Sans","fontSize":26,"color":"#ffffff"},
"encoding":{"x":{"field":"x","type":"quantitative","title":null,"scale":{"domain":[0.4,181],"nice":false,"zero":false}},"y":{"field":"y","type":"quantitative","title":null,"scale":{"domain":[-60,60],"nice":false,"zero":false}},"text":{"field":"t"}}}
]}
]}
]
}
